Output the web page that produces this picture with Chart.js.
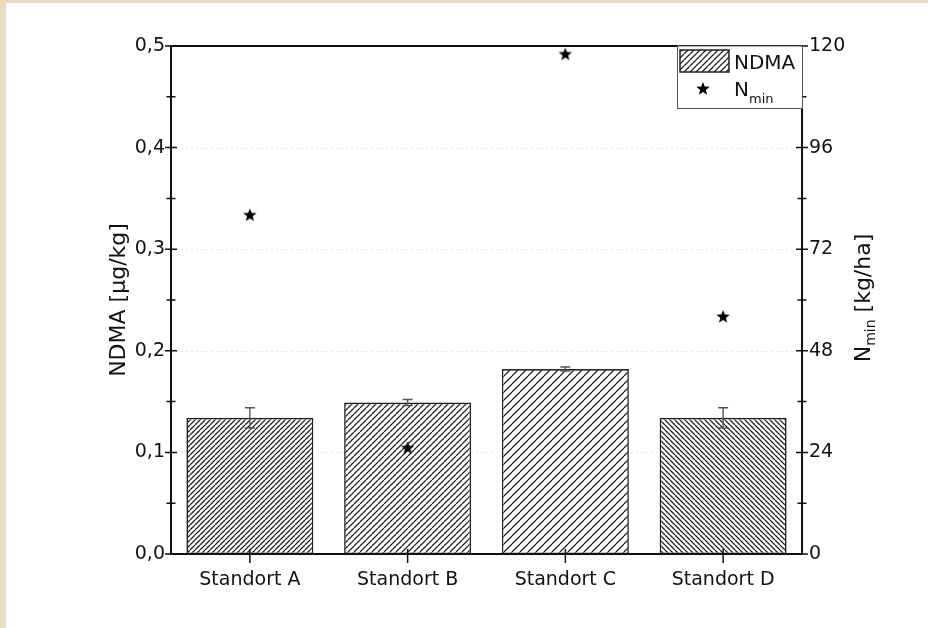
<!DOCTYPE html>
<html>
<head>
<meta charset="utf-8">
<script src="https://cdn.jsdelivr.net/npm/chart.js@4"></script>
<style>
  html, body { margin: 0; padding: 0; background: #fff; }
</style>
</head>
<body>
<canvas id="chart" width="928" height="628"></canvas>
<script>
// data
const categories = ['Standort A', 'Standort B', 'Standort C', 'Standort D'];
const ndma = [0.134, 0.149, 0.182, 0.134];      // µg/kg
const ndmaErr = [0.010, 0.003, 0.002, 0.010];
const nmin = [80, 25, 118, 56];                  // kg/ha

const FONT = 'DejaVu Sans';
const INK = '#111';

// hatch patterns, one per bar
function hatch(period, slash) {
  const c = document.createElement('canvas');
  c.width = c.height = period;
  const g = c.getContext('2d');
  g.fillStyle = '#fff';
  g.fillRect(0, 0, period, period);
  g.strokeStyle = '#222';
  g.lineWidth = 1.25;
  g.beginPath();
  for (const o of [-period, 0, period]) {
    if (slash) { g.moveTo(o, period); g.lineTo(o + period, 0); }
    else { g.moveTo(o, 0); g.lineTo(o + period, period); }
  }
  g.stroke();
  return g.createPattern(c, 'repeat');
}
const barFills = [hatch(5, true), hatch(6, true), hatch(8, true), hatch(5, false)];
const legendFill = hatch(6, true);

// filled 5-point star used as point style
function starImage(r) {
  const s = Math.ceil(r * 2 + 2);
  const c = document.createElement('canvas');
  c.width = c.height = s;
  const g = c.getContext('2d');
  g.fillStyle = '#000';
  g.beginPath();
  for (let i = 0; i < 10; i++) {
    const rad = i % 2 ? r * 0.42 : r;
    const a = -Math.PI / 2 + i * Math.PI / 5;
    g.lineTo(s / 2 + rad * Math.cos(a), s / 2 + rad * Math.sin(a));
  }
  g.closePath();
  g.fill();
  return c;
}
const star = starImage(7);

// background, gridlines under the bars
const backdrop = {
  id: 'backdrop',
  beforeDraw(chart) {
    const ctx = chart.ctx;
    ctx.save();
    ctx.fillStyle = '#fff';
    ctx.fillRect(0, 0, chart.width, chart.height);
    ctx.fillStyle = '#e8dbc2';
    ctx.fillRect(0, 0, 6, chart.height);
    ctx.fillRect(0, 0, chart.width, 3);
    ctx.restore();
  },
  beforeDatasetsDraw(chart) {
    const { ctx, chartArea: a, scales: { y } } = chart;
    ctx.save();
    ctx.strokeStyle = 'rgba(0,0,0,0.09)';
    ctx.lineWidth = 1;
    ctx.setLineDash([2, 3]);
    y.ticks.forEach(t => {
      const py = Math.round(y.getPixelForValue(t.value)) + 0.5;
      ctx.beginPath();
      ctx.moveTo(a.left, py);
      ctx.lineTo(a.right, py);
      ctx.stroke();
    });
    ctx.restore();
  }
};

// error bars, frame, ticks, titles, legend
const overlay = {
  id: 'overlay',
  afterDatasetsDraw(chart) {
    const { ctx, chartArea: a, scales: { x, y } } = chart;
    const bars = chart.getDatasetMeta(0).data;
    ctx.save();

    // error bars
    ctx.strokeStyle = '#555';
    ctx.lineWidth = 1.4;
    bars.forEach((b, i) => {
      const top = y.getPixelForValue(ndma[i] + ndmaErr[i]);
      const bot = y.getPixelForValue(ndma[i] - ndmaErr[i]);
      ctx.beginPath();
      ctx.moveTo(b.x, top); ctx.lineTo(b.x, bot);
      ctx.moveTo(b.x - 5, top); ctx.lineTo(b.x + 5, top);
      ctx.moveTo(b.x - 5, bot); ctx.lineTo(b.x + 5, bot);
      ctx.stroke();
    });

    // frame
    ctx.strokeStyle = INK;
    ctx.lineWidth = 2;
    ctx.strokeRect(a.left, a.top, a.right - a.left, a.bottom - a.top);

    // y ticks, major and minor, crossing both axes
    ctx.lineWidth = 1.5;
    const step = 0.05;
    for (let k = 0; k <= 10; k++) {
      const py = y.getPixelForValue(k * step);
      const len = k % 2 ? 4.5 : 6;
      ctx.beginPath();
      ctx.moveTo(a.left - len, py); ctx.lineTo(a.left + len, py);
      ctx.moveTo(a.right - len, py); ctx.lineTo(a.right + len, py);
      ctx.stroke();
    }
    // x ticks
    categories.forEach((c, i) => {
      const px = x.getPixelForValue(i);
      ctx.beginPath();
      ctx.moveTo(px, a.bottom - 5); ctx.lineTo(px, a.bottom + 9);
      ctx.stroke();
    });

    // axis titles
    ctx.fillStyle = INK;
    ctx.textBaseline = 'middle';
    ctx.save();
    ctx.translate(a.left - 52, (a.top + a.bottom) / 2);
    ctx.rotate(-Math.PI / 2);
    ctx.textAlign = 'center';
    ctx.font = `22px ${FONT}`;
    ctx.fillText('NDMA [µg/kg]', 0, 0);
    ctx.restore();

    ctx.save();
    ctx.translate(a.right + 62, (a.top + a.bottom) / 2 - 2);
    ctx.rotate(-Math.PI / 2);
    ctx.textAlign = 'left';
    ctx.font = `22px ${FONT}`;
    const wN = ctx.measureText('N').width;
    const wRest = ctx.measureText(' [kg/ha]').width;
    ctx.font = `14px ${FONT}`;
    const wSub = ctx.measureText('min').width;
    const tx = -(wN + wSub + wRest) / 2;
    ctx.font = `22px ${FONT}`;
    ctx.fillText('N', tx, 0);
    ctx.font = `14px ${FONT}`;
    ctx.fillText('min', tx + wN, 7);
    ctx.font = `22px ${FONT}`;
    ctx.fillText(' [kg/ha]', tx + wN + wSub, 0);
    ctx.restore();

    // legend
    const lx = a.right - 125, ly = a.top, lw = 125, lh = 62;
    ctx.fillStyle = '#fff';
    ctx.fillRect(lx, ly, lw, lh);
    ctx.strokeStyle = '#555';
    ctx.lineWidth = 1;
    ctx.strokeRect(lx + 0.5, ly, lw, lh + 0.5);
    ctx.fillStyle = legendFill;
    ctx.fillRect(lx + 3, ly + 4, 49, 22);
    ctx.strokeStyle = '#222';
    ctx.lineWidth = 1.5;
    ctx.strokeRect(lx + 3, ly + 4, 49, 22);
    ctx.drawImage(star, lx + 26 - star.width / 2, ly + 43 - star.height / 2);
    ctx.fillStyle = INK;
    ctx.textAlign = 'left';
    ctx.textBaseline = 'alphabetic';
    ctx.font = `20px ${FONT}`;
    ctx.fillText('NDMA', lx + 57, ly + 23);
    ctx.fillText('N', lx + 57, ly + 50);
    ctx.font = `13px ${FONT}`;
    ctx.fillText('min', lx + 72, ly + 57);

    ctx.restore();
  }
};

const fmt = v => v.toFixed(1).replace('.', ',');

new Chart(document.getElementById('chart'), {
  type: 'bar',
  data: {
    labels: categories,
    datasets: [
      {
        label: 'NDMA',
        data: ndma,
        yAxisID: 'y',
        backgroundColor: barFills,
        borderColor: '#222',
        borderWidth: 1.6,
        borderSkipped: false,
        categoryPercentage: 1,
        barPercentage: 0.805,
        order: 2
      },
      {
        type: 'line',
        label: 'Nmin',
        data: nmin,
        yAxisID: 'y1',
        showLine: false,
        pointStyle: star,
        pointRadius: 7,
        clip: false,
        order: 1
      }
    ]
  },
  options: {
    responsive: false,
    animation: false,
    devicePixelRatio: 1,
    layout: { padding: { top: 46, left: 0, right: 0, bottom: 0 } },
    plugins: { legend: { display: false }, tooltip: { enabled: false } },
    scales: {
      x: {
        grid: { display: false, drawTicks: false },
        border: { display: false },
        ticks: { color: INK, font: { family: FONT, size: 19 }, padding: 15, maxRotation: 0 },
        afterFit: s => { s.height = 74; }
      },
      y: {
        position: 'left',
        min: 0, max: 0.5,
        grid: { display: false, drawTicks: false },
        border: { display: false },
        ticks: { stepSize: 0.1, callback: v => fmt(v), color: INK, font: { family: FONT, size: 19 }, padding: 6 },
        afterFit: s => { s.width = 171; }
      },
      y1: {
        position: 'right',
        min: 0, max: 120,
        grid: { display: false, drawTicks: false },
        border: { display: false },
        ticks: { stepSize: 24, color: INK, font: { family: FONT, size: 19 }, padding: 7 },
        afterFit: s => { s.width = 126; }
      }
    }
  },
  plugins: [backdrop, overlay]
});
</script>
</body>
</html>
